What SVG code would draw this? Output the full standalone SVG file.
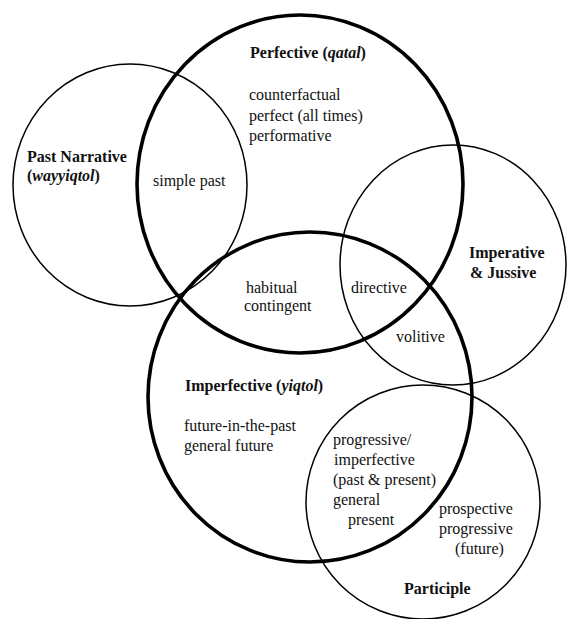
<svg xmlns="http://www.w3.org/2000/svg" width="567" height="619" viewBox="0 0 567 619">
  <style>
    .ring { fill: none; stroke: #000; }
    .thin { stroke-width: 1.5; }
    .thick { stroke-width: 3.6; }
    text { font-family: "Liberation Serif", "Times New Roman", serif; font-size: 16px; fill: #111; }
    .title { font-weight: bold; }
    .it { font-style: italic; }
  </style>
  <rect width="567" height="619" fill="#fff"/>

  <!-- Past Narrative -->
  <g id="past-narrative">
    <ellipse class="ring thin" cx="130" cy="185" rx="117" ry="121"/>
    <text class="title" x="27" y="162">Past Narrative</text>
    <text class="title" x="27" y="181">(<tspan class="it">wayyiqtol</tspan>)</text>
  </g>

  <!-- Perfective -->
  <g id="perfective">
    <ellipse class="ring thick" cx="300" cy="184" rx="163" ry="169"/>
    <text class="title" x="250" y="58">Perfective (<tspan class="it">qatal</tspan>)</text>
    <text x="249" y="100">counterfactual</text>
    <text x="249" y="121">perfect (all times)</text>
    <text x="249" y="141">performative</text>
  </g>

  <!-- Imperative & Jussive -->
  <g id="imperative-jussive">
    <ellipse class="ring thin" cx="453" cy="265" rx="113" ry="120"/>
    <text class="title" x="469" y="258">Imperative</text>
    <text class="title" x="470" y="278">&amp; Jussive</text>
  </g>

  <!-- Imperfective -->
  <g id="imperfective">
    <ellipse class="ring thick" cx="310" cy="397" rx="162" ry="165"/>
    <text class="title" x="185" y="391">Imperfective (<tspan class="it">yiqtol</tspan>)</text>
    <text x="184" y="431">future-in-the-past</text>
    <text x="184" y="451">general future</text>
  </g>

  <!-- Participle -->
  <g id="participle">
    <ellipse class="ring thin" cx="423" cy="502" rx="117" ry="117"/>
    <text class="title" x="404" y="594">Participle</text>
    <text x="439" y="514">prospective</text>
    <text x="439" y="534">progressive</text>
    <text x="455" y="554">(future)</text>
  </g>

  <!-- Overlap labels -->
  <g id="overlaps">
    <text x="153" y="186">simple past</text>
    <text x="246" y="293">habitual</text>
    <text x="244" y="311">contingent</text>
    <text x="351" y="293">directive</text>
    <text x="396" y="342">volitive</text>
    <text x="333" y="445">progressive/</text>
    <text x="334" y="465">imperfective</text>
    <text x="333" y="485">(past &amp; present)</text>
    <text x="333" y="505">general</text>
    <text x="348" y="525">present</text>
  </g>
</svg>
